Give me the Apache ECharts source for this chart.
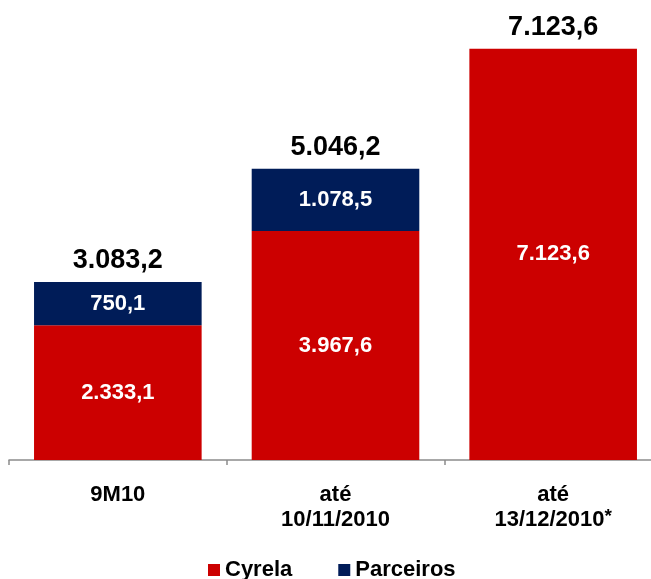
<!DOCTYPE html>
<html>
<head>
<meta charset="utf-8">
<script src="https://cdn.jsdelivr.net/npm/echarts@6/dist/echarts.min.js"></script>
<style>
  html, body { margin: 0; padding: 0; background: #fff; }
  #chart { width: 651px; height: 579px; }
</style>
</head>
<body>
<div id="chart"></div>
<script>
const categories = ["9M10", "até\n10/11/2010", "até\n13/12/2010{sup|*}"];
const cyrela = [2333.1, 3967.6, 7123.6];
const parceiros = [750.1, 1078.5, 0];
const totals = [3083.2, 5046.2, 7123.6];

const RED = "#CC0000";
const NAVY = "#001C58";
const FONT = "Liberation Sans, Arial, sans-serif";

function fmt(v) {
  const parts = v.toFixed(1).split(".");
  const int = parts[0].replace(/\B(?=(\d{3})+(?!\d))/g, ".");
  return int + "," + parts[1];
}

const chart = echarts.init(document.getElementById("chart"));

chart.setOption({
  animation: false,
  textStyle: { fontFamily: FONT },
  grid: { left: 9, width: 653, top: 27, bottom: 119, outerBoundsMode: "none", containLabel: false },
  legend: {
    data: ["Cyrela", "Parceiros"],
    top: 554,
    left: 203,
    itemWidth: 12,
    itemHeight: 12,
    itemGap: 46,
    icon: "rect",
    textStyle: { fontFamily: FONT, fontSize: 22, fontWeight: "bold", color: "#000" }
  },
  xAxis: {
    type: "category",
    data: categories,
    axisLine: { lineStyle: { color: "#8c8c8c", width: 1.5 } },
    axisTick: { show: true, interval: 0, length: 5, lineStyle: { color: "#8c8c8c", width: 1.5 } },
    axisLabel: {
      interval: 0,
      hideOverlap: false,
      margin: 22,
      fontFamily: FONT,
      fontSize: 22,
      fontWeight: "bold",
      color: "#000",
      lineHeight: 25,
      rich: {
        sup: { fontSize: 19, fontWeight: "bold", color: "#000", verticalAlign: "top", padding: [0, 0, 20, 0] }
      }
    }
  },
  yAxis: { type: "value", min: 0, max: 7500, show: false, splitLine: { show: false } },
  series: [
    {
      name: "Cyrela",
      type: "bar",
      stack: "a",
      barWidth: "77%",
      data: cyrela,
      itemStyle: { color: RED },
      label: {
        show: true,
        position: "inside",
        color: "#fff",
        fontFamily: FONT,
        fontSize: 22,
        fontWeight: "bold",
        formatter: (p) => fmt(p.value)
      }
    },
    {
      name: "Parceiros",
      type: "bar",
      stack: "a",
      data: parceiros.map((v) => (v > 0 ? v : null)),
      itemStyle: { color: NAVY },
      label: {
        show: true,
        position: "inside",
        color: "#fff",
        fontFamily: FONT,
        fontSize: 22,
        fontWeight: "bold",
        formatter: (p) => fmt(p.value)
      }
    },
    {
      name: "Total",
      type: "bar",
      stack: "a",
      data: totals.map(() => 0),
      itemStyle: { color: "transparent" },
      label: {
        show: true,
        position: "top",
        distance: 8,
        color: "#000",
        fontFamily: FONT,
        fontSize: 27,
        fontWeight: "bold",
        formatter: (p) => fmt(totals[p.dataIndex])
      }
    }
  ]
});
</script>
</body>
</html>
